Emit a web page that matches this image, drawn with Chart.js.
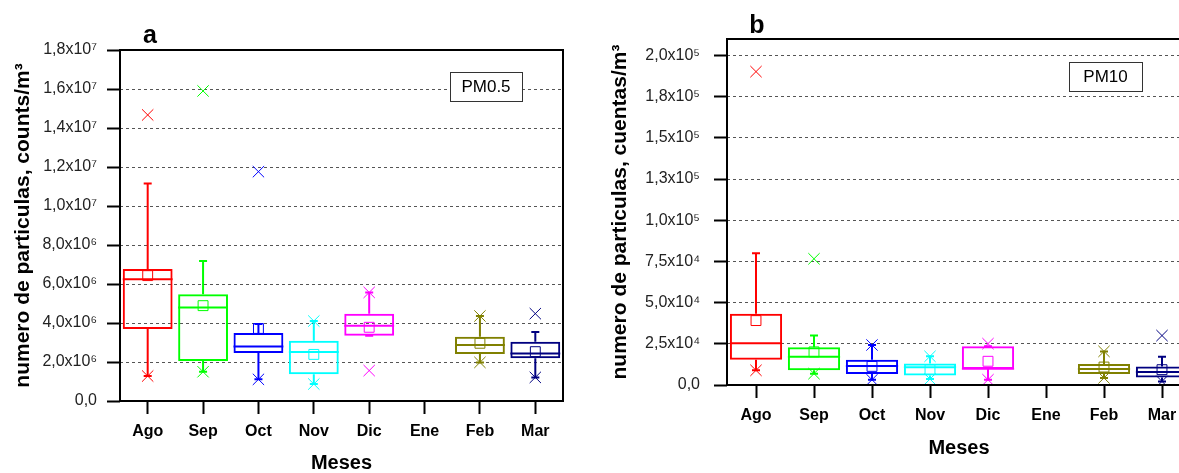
<!DOCTYPE html>
<html>
<head>
<meta charset="utf-8">
<script src="https://cdn.jsdelivr.net/npm/chart.js@4.4.0/dist/chart.umd.min.js"></script>
<style>
  html, body { margin: 0; padding: 0; background: #fff; overflow: hidden; width: 1179px; height: 473px; }
  canvas { position: absolute; top: 0; }
  #chartA { left: 0; }
  #chartB { left: 580px; }
</style>
</head>
<body>
<canvas id="chartA" width="580" height="473"></canvas>
<canvas id="chartB" width="640" height="473"></canvas>
<script>
const meses = ['Ago', 'Sep', 'Oct', 'Nov', 'Dic', 'Ene', 'Feb', 'Mar'];
const colores = ['#ff0000', '#00ff00', '#0000ff', '#00ffff', '#ff00ff', '#000000', '#808000', '#000080'];

// PM0.5 (counts/m3)
const pm05Q1 = [3.69e6, 2.05e6, 2.46e6, 1.37e6, 3.35e6, null, 2.41e6, 2.19e6];
const pm05Med = [6.24e6, 4.80e6, 2.80e6, 2.51e6, 3.86e6, null, 2.87e6, 2.44e6];
const pm05Q3 = [6.77e6, 5.47e6, 3.49e6, 3.09e6, 4.48e6, null, 3.30e6, 3.04e6];
const pm05Media = [6.43e6, 4.89e6, 3.72e6, 2.39e6, 3.78e6, null, 2.96e6, 2.53e6];
const pm05BigoteInf = [1.28e6, 1.50e6, 1.11e6, 0.87e6, 3.35e6, null, 1.98e6, 1.21e6];
const pm05BigoteSup = [11.16e6, 7.18e6, 3.95e6, 4.10e6, 5.57e6, null, 4.36e6, 3.54e6];
const pm05Min = [1.28e6, 1.50e6, 1.11e6, 0.87e6, 1.56e6, null, 1.98e6, 1.21e6];
const pm05Max = [14.67e6, 15.9e6, 11.76e6, 4.10e6, 5.57e6, null, 4.36e6, 4.48e6];
const pm05Ticks = [0, 2e6, 4e6, 6e6, 8e6, 1e7, 1.2e7, 1.4e7, 1.6e7, 1.8e7];
const pm05TickLabels = ['0,0', '2,0x10⁶', '4,0x10⁶', '6,0x10⁶', '8,0x10⁶', '1,0x10⁷', '1,2x10⁷', '1,4x10⁷', '1,6x10⁷', '1,8x10⁷'];

// PM10 (cuentas/m3)
const pm10Q1 = [15400, 8900, 6700, 5800, 9700, null, 6700, 4600];
const pm10Med = [25300, 17200, 11600, 10700, 9900, null, 9700, 7900];
const pm10Q3 = [43200, 22900, 15400, 13000, 23500, null, 12800, 11300];
const pm10Media = [39100, 20100, 11300, 9300, 14400, null, 10900, 9300];
const pm10BigoteInf = [8900, 6900, 3200, 3600, 3200, null, 4300, 2200];
const pm10BigoteSup = [80000, 30000, 24300, 17400, 23500, null, 20400, 17200];
const pm10Min = [8900, 6900, 3200, 3600, 3200, null, 4300, 2200];
const pm10Max = [190200, 76600, 24300, 17400, 25100, null, 20400, 30000];
const pm10Ticks = [0, 25000, 50000, 75000, 100000, 125000, 150000, 175000, 200000];
const pm10TickLabels = ['0,0', '2,5x10⁴', '5,0x10⁴', '7,5x10⁴', '1,0x10⁵', '1,3x10⁵', '1,5x10⁵', '1,8x10⁵', '2,0x10⁵'];

const fam = "'Liberation Sans', Arial, sans-serif";

// whiskers, medians, frame, panel letter and tag box
function boxExtras(s) {
  return {
    id: 'boxExtras',
    beforeDatasetsDraw(chart) {
      const { ctx, scales: { x, y } } = chart;
      ctx.save();
      ctx.lineWidth = 2;
      s.q1.forEach((q1, i) => {
        if (q1 == null) return;
        const cx = x.getPixelForValue(i);
        const yLo = y.getPixelForValue(s.lo[i]);
        const yHi = y.getPixelForValue(s.hi[i]);
        ctx.strokeStyle = colores[i];
        ctx.beginPath();
        ctx.moveTo(cx, yLo); ctx.lineTo(cx, y.getPixelForValue(q1));
        ctx.moveTo(cx, y.getPixelForValue(s.q3[i])); ctx.lineTo(cx, yHi);
        ctx.moveTo(cx - 4, yLo); ctx.lineTo(cx + 4, yLo);
        ctx.moveTo(cx - 4, yHi); ctx.lineTo(cx + 4, yHi);
        ctx.stroke();
      });
      ctx.restore();
    },
    afterDatasetsDraw(chart) {
      const { ctx, scales: { x, y } } = chart;
      const bars = chart.getDatasetMeta(0).data;
      ctx.save();
      ctx.lineWidth = 2;
      s.med.forEach((m, i) => {
        if (m == null) return;
        const cx = x.getPixelForValue(i);
        const hw = bars[i].width / 2;
        const py = y.getPixelForValue(m);
        ctx.strokeStyle = colores[i];
        ctx.beginPath();
        ctx.moveTo(cx - hw, py); ctx.lineTo(cx + hw, py);
        ctx.stroke();
      });
      ctx.restore();
    },
    afterDraw(chart) {
      const { ctx, chartArea: a } = chart;
      ctx.save();
      ctx.strokeStyle = '#000';
      ctx.lineWidth = 2;
      ctx.strokeRect(a.left, a.top, a.right - a.left, a.bottom - a.top);
      ctx.fillStyle = '#000';
      ctx.font = 'bold 25px ' + fam;
      ctx.textAlign = 'center';
      ctx.textBaseline = 'alphabetic';
      ctx.fillText(s.letra, a.left + 30, a.top + s.letraDy);
      const bx = a.left + s.tagDx, by = a.top + s.tagDy;
      ctx.fillStyle = '#fff';
      ctx.fillRect(bx, by, s.tagW, 29);
      ctx.lineWidth = 1;
      ctx.strokeStyle = '#333';
      ctx.strokeRect(bx + 0.5, by + 0.5, s.tagW, 29);
      ctx.fillStyle = '#000';
      ctx.font = '17px ' + fam;
      ctx.textBaseline = 'middle';
      ctx.fillText(s.tag, bx + s.tagW / 2, by + 15);
      ctx.restore();
    }
  };
}

function boxChart(id, s) {
  return new Chart(document.getElementById(id), {
    type: 'bar',
    data: {
      labels: meses,
      datasets: [{
        data: s.q1.map((v, i) => v == null ? null : [v, s.q3[i]]),
        backgroundColor: 'rgba(0,0,0,0)',
        borderColor: colores,
        borderWidth: 2,
        borderSkipped: false,
        barPercentage: 0.9,
        categoryPercentage: 1
      }, {
        type: 'line',
        data: s.media,
        showLine: false,
        pointStyle: 'rect',
        pointRadius: 7,
        pointBorderWidth: 1,
        pointBorderColor: colores,
        pointBackgroundColor: 'rgba(0,0,0,0)'
      }, {
        type: 'line',
        data: s.max,
        showLine: false,
        pointStyle: 'crossRot',
        pointRadius: 8,
        pointBorderWidth: 1,
        pointBorderColor: colores
      }, {
        type: 'line',
        data: s.min,
        showLine: false,
        pointStyle: 'crossRot',
        pointRadius: 8,
        pointBorderWidth: 1,
        pointBorderColor: colores
      }]
    },
    options: {
      responsive: false,
      animation: false,
      events: [],
      layout: { padding: s.pad },
      plugins: { legend: { display: false }, tooltip: { enabled: false } },
      scales: {
        x: {
          offset: true,
          afterFit: sc => { sc.height = s.xH; },
          ticks: { color: '#000', font: { family: fam, size: 16, weight: 'bold' }, padding: 8, maxRotation: 0, autoSkip: false },
          grid: { offset: false, drawOnChartArea: false, tickLength: 13, tickColor: '#000', tickWidth: 2 },
          border: { display: false },
          title: { display: true, text: 'Meses', color: '#000', font: { family: fam, size: 20, weight: 'bold', lineHeight: 1 }, padding: { top: 0, bottom: 0 } }
        },
        y: {
          min: 0,
          max: s.yMax,
          afterBuildTicks: sc => { sc.ticks = s.ticks.map(v => ({ value: v })); },
          afterFit: sc => { sc.width = s.yW; },
          ticks: { callback: (v, i) => s.tickLabels[i], color: '#222', font: { family: fam, size: 16 }, padding: s.tickPad, autoSkip: false },
          grid: { color: '#555', lineWidth: 1, tickLength: 13, tickColor: '#000', tickWidth: 2, tickBorderDash: [] },
          border: { display: false, dash: [3, 3] },
          title: { display: true, text: s.yTitle, color: '#000', font: { family: fam, size: 21, weight: 'bold', lineHeight: 1.2 }, padding: { top: s.yTitlePad } }
        }
      }
    },
    plugins: [boxExtras(s)]
  });
}

boxChart('chartA', {
  q1: pm05Q1, med: pm05Med, q3: pm05Q3, media: pm05Media,
  lo: pm05BigoteInf, hi: pm05BigoteSup, min: pm05Min, max: pm05Max,
  ticks: pm05Ticks, tickLabels: pm05TickLabels, yMax: 1.8e7,
  yTitle: 'numero de particulas, counts/m³',
  pad: { left: 0, top: 50, right: 17, bottom: 0 }, xH: 72, yW: 120, tickPad: 10, yTitlePad: 11,
  letra: 'a', letraDy: -7, tag: 'PM0.5', tagDx: 330, tagDy: 22, tagW: 72
});

boxChart('chartB', {
  q1: pm10Q1, med: pm10Med, q3: pm10Q3, media: pm10Media,
  lo: pm10BigoteInf, hi: pm10BigoteSup, min: pm10Min, max: pm10Max,
  ticks: pm10Ticks, tickLabels: pm10TickLabels, yMax: 210000,
  yTitle: 'numero de particulas, cuentas/m³',
  pad: { left: 0, top: 39, right: 29, bottom: 15 }, xH: 73, yW: 147, tickPad: 14, yTitlePad: 28,
  letra: 'b', letraDy: -6, tag: 'PM10', tagDx: 342, tagDy: 23, tagW: 73
});
</script>
</body>
</html>
